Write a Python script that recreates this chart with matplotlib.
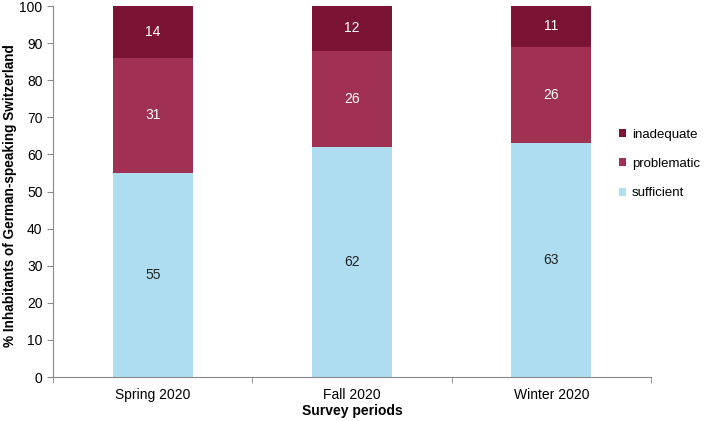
import matplotlib.pyplot as plt
import numpy as np

plt.rcParams['font.family'] = ['Liberation Sans', 'DejaVu Sans']

periods = ["Spring 2020", "Fall 2020", "Winter 2020"]
sufficient = [55, 62, 63]
problematic = [31, 26, 26]
inadequate = [14, 12, 11]

c_suff = "#AEDDF2"
c_prob = "#A03152"
c_inad = "#7B1434"

fig = plt.figure(figsize=(7.08, 4.21), dpi=100)
ax = fig.add_axes([0.0749, 0.1045, 0.8446, 0.8812])

x = np.arange(len(periods))
w = 0.4
b1 = ax.bar(x, sufficient, w, color=c_suff, label="sufficient")
b2 = ax.bar(x, problematic, w, bottom=sufficient, color=c_prob, label="problematic")
bottom3 = np.array(sufficient) + np.array(problematic)
b3 = ax.bar(x, inadequate, w, bottom=bottom3, color=c_inad, label="inadequate")

ax.bar_label(b1, label_type="center", color="#222222", fontsize=10)
ax.bar_label(b2, label_type="center", color="white", fontsize=10)
ax.bar_label(b3, label_type="center", color="white", fontsize=10)

ax.set_xlim(-0.5, 2.5)
ax.set_ylim(0, 100)
ax.set_yticks(range(0, 101, 10))
ax.set_xticks(x)
ax.set_xticklabels(periods, fontsize=10)
ax.set_xticks([-0.5, 0.5, 1.5, 2.5], minor=True)
ax.tick_params(axis="x", which="major", length=0, pad=8)
ax.tick_params(axis="x", which="minor", length=4, color="#888888")
ax.tick_params(axis="y", length=4, color="#888888", labelsize=10)

for s in ["top", "right"]:
    ax.spines[s].set_visible(False)
for s in ["left", "bottom"]:
    ax.spines[s].set_color("#888888")

ax.set_xlabel("Survey periods", fontweight="bold", fontsize=10, labelpad=1)
ax.set_ylabel("% Inhabitants of German-speaking Switzerland", fontweight="bold", fontsize=9.8)
ax.yaxis.set_label_coords(-0.061, 0.49)

h, l = ax.get_legend_handles_labels()
ax.legend(h[::-1], l[::-1], loc="center left", bbox_to_anchor=(0.927, 0.574), frameon=False,
          fontsize=9.5, handlelength=0.55, handleheight=0.55, handletextpad=0.4, labelspacing=1.3)

fig.savefig("out.png", dpi=100)
